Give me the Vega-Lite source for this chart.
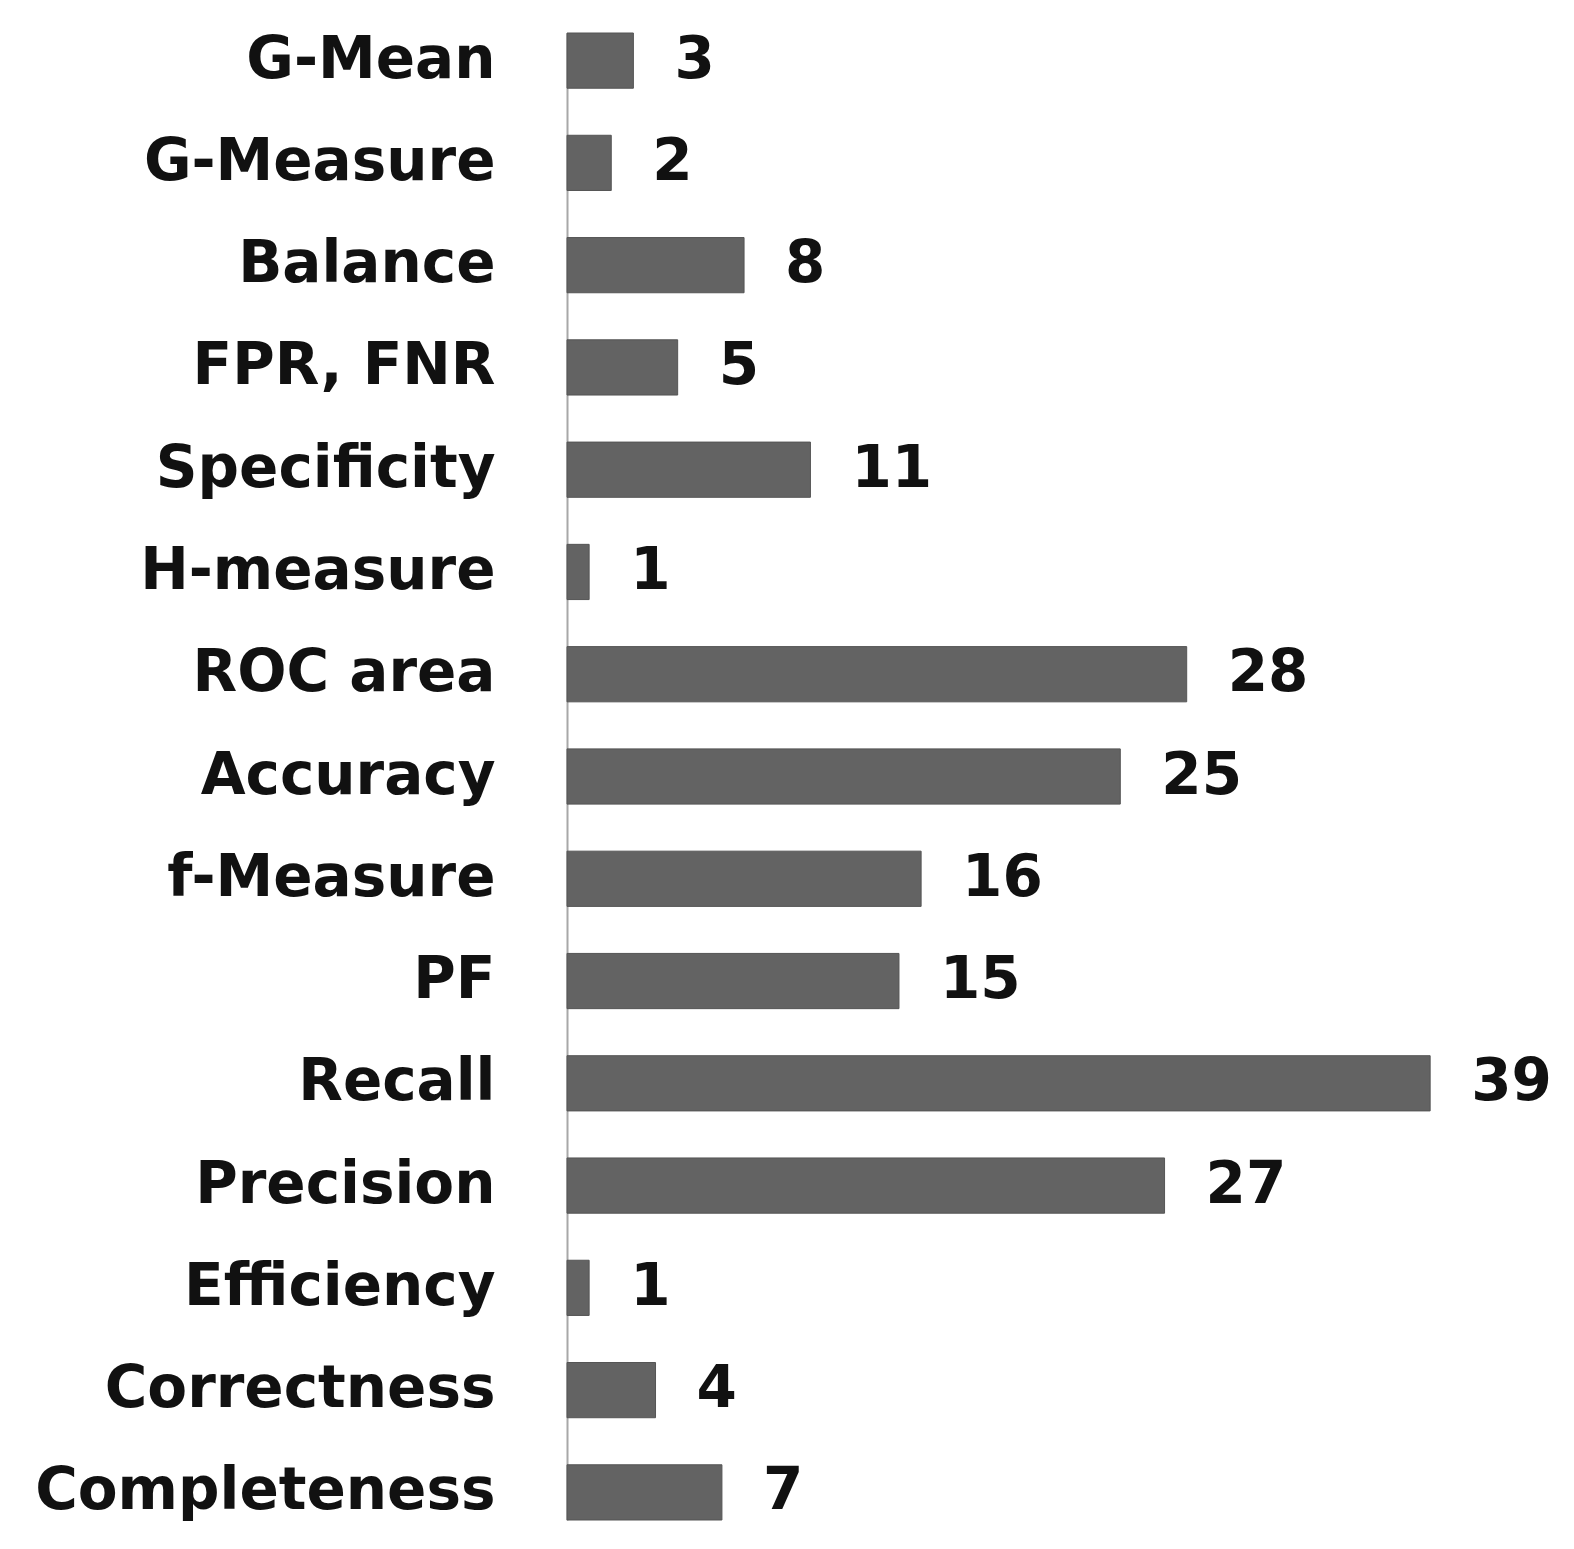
{
  "$schema": "https://vega.github.io/schema/vega-lite/v6.json",
  "width": 1007,
  "height": 1487,
  "autosize": {"type": "none"},
  "padding": {"left": 567, "top": 33, "right": 0, "bottom": 29},
  "background": "white",
  "data": {"values": [
    {"metric": "G-Mean", "count": 3},
    {"metric": "G-Measure", "count": 2},
    {"metric": "Balance", "count": 8},
    {"metric": "FPR, FNR", "count": 5},
    {"metric": "Specificity", "count": 11},
    {"metric": "H-measure", "count": 1},
    {"metric": "ROC area", "count": 28},
    {"metric": "Accuracy", "count": 25},
    {"metric": "f-Measure", "count": 16},
    {"metric": "PF", "count": 15},
    {"metric": "Recall", "count": 39},
    {"metric": "Precision", "count": 27},
    {"metric": "Efficiency", "count": 1},
    {"metric": "Correctness", "count": 4},
    {"metric": "Completeness", "count": 7}
  ]},
  "encoding": {
    "y": {
      "field": "metric", "type": "nominal", "sort": null,
      "scale": {"paddingInner": 0.46, "paddingOuter": 0},
      "axis": {"title": null, "ticks": false, "labelPadding": 72, "labelLimit": 0, "labelFont": "DejaVu Sans", "labelFontWeight": "bold", "labelFontSize": 58, "labelColor": "#111111", "domainColor": "#a8a8a8", "domainWidth": 2, "grid": false}
    },
    "x": {
      "field": "count", "type": "quantitative",
      "scale": {"domain": [0, 45.5], "nice": false},
      "axis": null
    }
  },
  "layer": [
    {"mark": {"type": "bar", "color": "#636363", "stroke": "#555555", "strokeWidth": 1}},
    {"mark": {"type": "text", "align": "left", "baseline": "middle", "dx": 41, "font": "DejaVu Sans", "fontWeight": "bold", "fontSize": 58, "color": "#111111"},
     "encoding": {"text": {"field": "count", "type": "quantitative"}}}
  ],
  "config": {"view": {"stroke": null}}
}
